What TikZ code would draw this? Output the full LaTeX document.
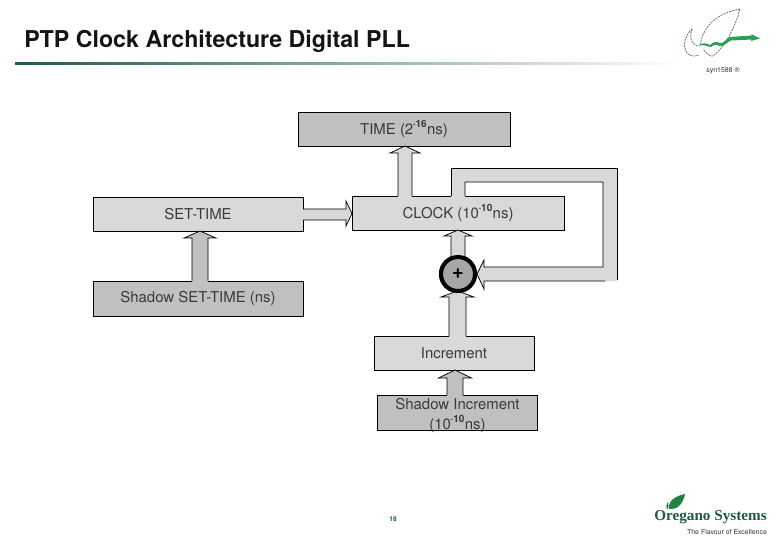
\documentclass[tikz,border=0pt]{standalone}
\usepackage{fontspec}
\setmainfont{TeX Gyre Heros}
\newfontfamily\logofont{Liberation Serif}
\usetikzlibrary{calc}
\definecolor{lightbox}{HTML}{D9D9D9}
\definecolor{darkbox}{HTML}{C0C0C0}
\definecolor{hubfill}{HTML}{A6A6A6}
\definecolor{inktext}{HTML}{3A3A3A}
\definecolor{oregano}{HTML}{1F5B45}
\definecolor{leafgreen}{HTML}{2E9E57}
\newcommand{\px}{0.75pt}
\newcommand{\sqb}[2]{\kern-0.5pt\raisebox{0.85ex}{\fontsize{7.5}{8}\selectfont #1\kern-0.3pt\textbf{#2}}\kern0.3pt}
% vertical block arrow: from node anchor, to node anchor, centre x, half shaft, half head, head length, fill
\newcommand{\uparrowblock}[7]{%
  \fill[#7] let \p1=(#1), \p2=(#2) in
    ({(#3-#4)*\px},{\y1-1.2*\px}) -- ({(#3-#4)*\px},{\y2-#6*\px}) -- ({(#3-#5)*\px},{\y2-#6*\px}) --
    ({#3*\px},\y2) -- ({(#3+#5)*\px},{\y2-#6*\px}) -- ({(#3+#4)*\px},{\y2-#6*\px}) -- ({(#3+#4)*\px},{\y1-1.2*\px}) -- cycle;
  \draw[arrowline] let \p1=(#1), \p2=(#2) in
    ({(#3-#4)*\px},\y1) -- ({(#3-#4)*\px},{\y2-#6*\px}) -- ({(#3-#5)*\px},{\y2-#6*\px}) --
    ({#3*\px},\y2) -- ({(#3+#5)*\px},{\y2-#6*\px}) -- ({(#3+#4)*\px},{\y2-#6*\px}) -- ({(#3+#4)*\px},\y1);
}
\tikzset{
  x=0.75pt,y=-0.75pt,
  blockbox/.style={draw=black,line width=0.6pt,inner sep=0pt,outer sep=0pt,text=inktext,font=\fontsize{11.2}{15}\selectfont,align=center},
  arrowline/.style={draw=black,line width=0.55pt,line join=miter},
  lightblock/.style={blockbox,fill=lightbox},
  darkblock/.style={blockbox,fill=darkbox},
  hub/.style={circle,draw=black,line width=3pt,fill=hubfill,minimum size=25.5pt,inner sep=0pt,outer sep=0pt,font=\bfseries\fontsize{15}{15}\selectfont,text=black},
}
\begin{document}
\begin{tikzpicture}
\useasboundingbox (0,0) rectangle (780,540);
\fill[white] (0,0) rectangle (780,540);
% title and rule
\node[anchor=base west,inner sep=0pt,font=\bfseries\fontsize{17.4}{20}\selectfont,text=black!92] (title) at (24,47) {PTP Clock Architecture Digital PLL};
\shade[left color=oregano,right color=white,shading angle=90] (15,62.5) rectangle (680,64.5);
% boxes
\node[darkblock,minimum width=159pt,minimum height=25.5pt] (time) at (404,129) {TIME (2\sqb{-}{16}ns)};
\node[lightblock,minimum width=159pt,minimum height=25.5pt] (clock) at (458,213) {CLOCK (10\sqb{-}{10}ns)};
\node[lightblock,minimum width=157.5pt,minimum height=25.5pt] (settime) at (198,214) {SET-TIME};
\node[darkblock,minimum width=157.5pt,minimum height=26.25pt] (shadowset) at (198,298.5) {Shadow SET-TIME (ns)};
\node[lightblock,minimum width=120pt,minimum height=25.5pt] (increment) at (454,353) {Increment};
\node[darkblock,minimum width=120pt,minimum height=26.25pt] (shadowinc) at (457.5,412.5) {\raisebox{-5pt}[9pt][9pt]{\begin{tabular}{@{}c@{}}Shadow Increment\\(10\sqb{-}{10}ns)\end{tabular}}};
\node[hub] (plus) at (458,274) {+};
% vertical arrows
\uparrowblock{clock.north}{time.south}{405}{7}{15}{7}{lightbox}
\uparrowblock{shadowset.north}{settime.south}{200}{8}{16}{7}{darkbox}
\uparrowblock{plus.north}{clock.south}{458}{7}{14}{6}{lightbox}
\uparrowblock{increment.north}{plus.south}{457.5}{8.5}{16.5}{6}{lightbox}
\uparrowblock{shadowinc.north}{increment.south}{455}{8}{16.5}{8}{darkbox}
\node[hub] at (plus) {+};
% set arrow
\fill[lightbox] let \p1=(settime.east), \p2=(clock.west) in
  ({\x1-1.2*\px},{\y1-6*\px}) -- ({\x2-6*\px},{\y1-6*\px}) -- ({\x2-6*\px},{\y1-12*\px}) -- (\x2,{\y1+0.5*\px}) --
  ({\x2-6*\px},{\y1+13*\px}) -- ({\x2-6*\px},{\y1+5*\px}) -- ({\x1-1.2*\px},{\y1+5*\px}) -- cycle;
\draw[arrowline] let \p1=(settime.east), \p2=(clock.west) in
  (\x1,{\y1-6*\px}) -- ({\x2-6*\px},{\y1-6*\px}) -- ({\x2-6*\px},{\y1-12*\px}) -- (\x2,{\y1+0.5*\px}) --
  ({\x2-6*\px},{\y1+13*\px}) -- ({\x2-6*\px},{\y1+5*\px}) -- (\x1,{\y1+5*\px});
% feedback arrow
\coordinate (fbtip) at ($(plus.east)+(2,0)$);
\fill[lightbox] let \p1=(clock.north), \p2=(fbtip) in
  ({451*\px},{\y1-1.2*\px}) -- ({451*\px},{168*-\px}) -- ({617*\px},{168*-\px}) -- ({617*\px},{281*-\px}) -- ({484*\px},{281*-\px}) --
  ({484*\px},{289*-\px}) -- (fbtip) -- ({484*\px},{260*-\px}) -- ({484*\px},{267*-\px}) -- ({603*\px},{267*-\px}) -- ({603*\px},{182*-\px}) --
  ({465*\px},{182*-\px}) -- ({465*\px},{\y1-1.2*\px}) -- cycle;
\draw[arrowline] let \p1=(clock.north) in
  ({451*\px},\y1) -- ({451*\px},{168*-\px}) -- ({617*\px},{168*-\px}) -- ({617*\px},{280*-\px});
\draw[arrowline] let \p1=(clock.north) in
  ({605*\px},{281*-\px}) -- ({484*\px},{281*-\px}) -- ({484*\px},{289*-\px}) -- (fbtip) -- ({484*\px},{260*-\px}) -- ({484*\px},{267*-\px}) -- ({603*\px},{267*-\px}) -- ({603*\px},{182*-\px}) -- ({465*\px},{182*-\px}) -- ({465*\px},\y1);
% page number
\node[font=\bfseries\fontsize{5}{5}\selectfont,text=oregano,inner sep=0pt] (page) at (393,519) {18};
% syn1588 logo
\draw[oregano!60!gray,line width=0.5pt,dash pattern=on 1.6pt off 0.7pt]
  (740,9) .. controls (718,13) and (703,25) .. (700,46);
\draw[oregano!60!gray,line width=0.5pt,dash pattern=on 1.6pt off 0.7pt]
  (740,9) .. controls (736,24) and (727,45) .. (713,56) .. controls (710,57) and (706,53) .. (703,49);
\draw[oregano!60!gray,line width=0.5pt,dash pattern=on 1.6pt off 0.7pt]
  (692,29) .. controls (684,36) and (682,48) .. (688,54) .. controls (692,57) and (696,56) .. (699,55);
\draw[oregano!60!gray,line width=0.5pt,dash pattern=on 1.6pt off 0.7pt]
  (692,29) .. controls (689,37) and (691,43) .. (697,46);
\fill[leafgreen] (698,46) .. controls (703,42) and (706,43) .. (710,45) .. controls (713,42) and (716,41) .. (720,43) .. controls (724,44) and (726,38) .. (730,37) -- (752,35.5) -- (751,34) -- (760,38.5) -- (751,41) -- (752,39.5) -- (731,40.5) .. controls (727,42) and (725,46) .. (720,46) .. controls (716,45) and (714,44) .. (711,47) .. controls (706,46) and (703,44) .. (698,46) -- cycle;
\node[font=\fontsize{5.2}{6}\selectfont,text=black!80,inner sep=0pt] (syn) at (723,71) {syn1588 ®};
% Oregano Systems logo
\fill[leafgreen!80!black] (685,494) .. controls (675,496) and (668,501) .. (669,509) .. controls (676,510) and (683,505) .. (685,494) -- cycle;
\fill[leafgreen!80!black] (668,502) .. controls (666,505) and (666,507) .. (667,510) .. controls (669,508) and (669,505) .. (668,502) -- cycle;
\node[font=\logofont\bfseries\fontsize{11.4}{14}\selectfont,text=oregano,inner sep=0pt,anchor=base west] (oregano) at (654,520) {Oregano Systems};
\node[font=\fontsize{5.2}{6}\selectfont,text=black!80,inner sep=0pt] (tagline) at (727,532) {The Flavour of Excellence};
\end{tikzpicture}
\end{document}
